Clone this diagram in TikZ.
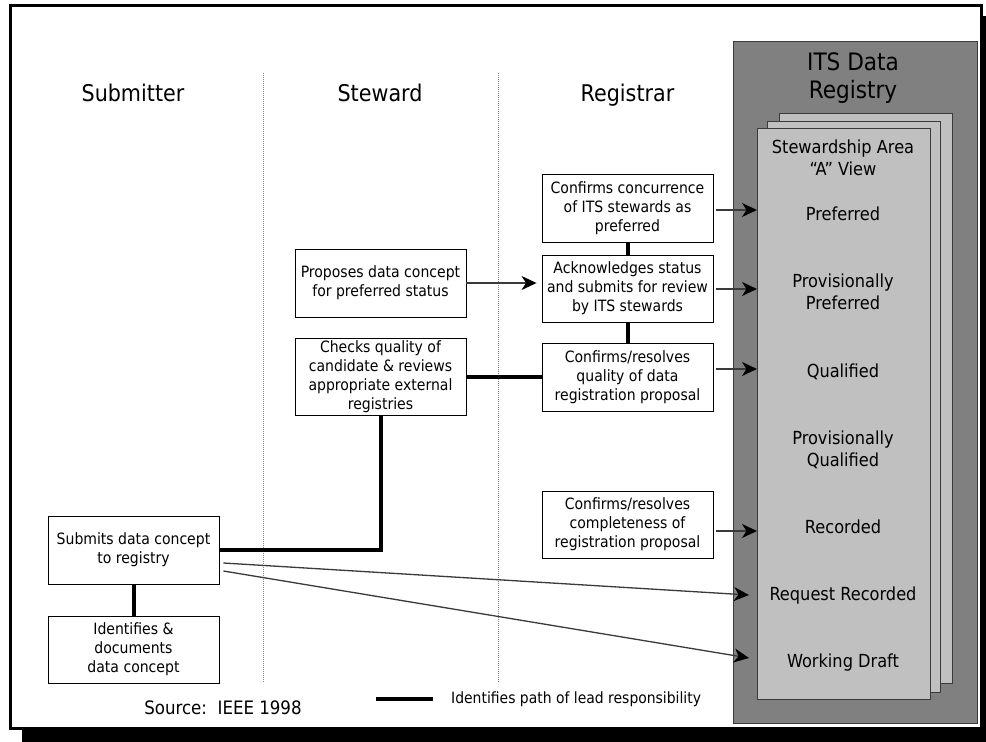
\documentclass[tikz,border=0pt]{standalone}
\usepackage{fontspec}
\setmainfont{DejaVu Sans Condensed}
\usetikzlibrary{arrows.meta}
\definecolor{regdark}{HTML}{808080}
\definecolor{pagefill}{HTML}{C0C0C0}
\definecolor{edgegray}{HTML}{3A3A3A}
\tikzset{
  stepbox/.style={draw=black, line width=0.9pt, fill=white, minimum width=171pt,
    align=center, inner sep=0pt, font=\fontsize{15.6}{19}\selectfont},
  lead/.style={line width=4pt},
  feed/.style={draw=edgegray, line width=1.3pt,
    -{Stealth[length=15pt,width=14pt,inset=4.5pt,color=black]}},
  lane/.style={gray, line width=0.7pt, dash pattern=on 1pt off 1pt},
  header/.style={font=\fontsize{23}{28}\selectfont, align=center, anchor=base},
  status/.style={font=\fontsize{18}{22}\selectfont, align=center, anchor=base},
  sheet/.style={draw=edgegray, line width=1pt, fill=pagefill, inner sep=0pt,
    minimum width=173pt},
}
\begin{document}
\begin{tikzpicture}[x=1pt,y=-1pt]
\useasboundingbox (0,0) rectangle (986,742);
% drop shadow and frame
\fill[black] (22,16) rectangle (1000,750);
\draw[line width=3pt, fill=white] (10.5,5.5) rectangle (981.5,728.5);

% swim-lane separators
\draw[lane] (263,73) -- (263,682);
\draw[lane] (498,73) -- (498,682);

% lane headers
\node[header] (hSub) at (133,101) {Submitter};
\node[header] (hStw) at (380,101) {Steward};
\node[header] (hReg) at (627.5,101) {Registrar};

% registry with stacked views (multi-line labels sit on their last baseline)
\node[draw=edgegray, line width=1pt, fill=regdark, inner sep=0pt,
      minimum width=244pt, minimum height=682pt] (registry) at (855,382) {};
\node[header, font=\fontsize{24}{28.7}\selectfont] (regTitle) at (853,98.7) {ITS Data\\Registry};
\node[sheet, minimum height=570pt] (back) at (865.5,398) {};
\node[sheet, minimum height=571pt] (middle) at (853.5,406.5) {};
\node[sheet, minimum height=571pt] (front) at (843.5,413.5) {};

\node[status] (lArea) at (843,175) {Stewardship Area\\“A” View};
\node[status] (lPref) at (843,220) {Preferred};
\node[status] (lProvPref) at (843,309.3) {Provisionally\\Preferred};
\node[status] (lQual) at (843,377) {Qualified};
\node[status] (lProvQual) at (843,466) {Provisionally\\Qualified};
\node[status] (lRec) at (843,533) {Recorded};
\node[status] (lReq) at (843,600.7) {Request Recorded};
\node[status] (lDraft) at (843,667.7) {Working Draft};

% entry points on the view
\coordinate (inPref) at (757,210);
\coordinate (inProvPref) at (757,289);
\coordinate (inQual) at (757,369);
\coordinate (inRec) at (757,531);
\coordinate (inReq) at (749,595);
\coordinate (inDraft) at (749,658);

% process steps
\node[stepbox, minimum height=68pt] (reg1) at (627.5,208)
  {Confirms concurrence\\of ITS stewards as\\preferred};
\node[stepbox, minimum height=67pt] (reg2) at (627.5,288.5)
  {Acknowledges status\\and submits for review\\by ITS stewards};
\node[stepbox, minimum height=68pt] (reg3) at (627.5,377)
  {Confirms/resolves\\quality of data\\registration proposal};
\node[stepbox, minimum height=67pt] (reg4) at (627.5,524.5)
  {Confirms/resolves\\completeness of\\registration proposal};
\node[stepbox, minimum height=68pt] (stw1) at (380.5,283)
  {Proposes data concept\\for preferred status};
\node[stepbox, minimum height=77pt] (stw2) at (380.5,376.5)
  {Checks quality of\\candidate \& reviews\\appropriate external\\registries};
\node[stepbox, minimum height=68pt] (sub1) at (133.5,550)
  {Submits data concept\\to registry};
\node[stepbox, minimum height=67pt] (sub2) at (133.5,649.5)
  {Identifies \&\\documents\\data concept};

% lead responsibility path
\draw[lead] (reg1.south) -- (reg2.north);
\draw[lead] (reg2.south) -- (reg3.north);
\draw[lead] (stw2.east) -- (stw2.east -| reg3.west);
\draw[lead] (stw2.south) -- (stw2.south |- sub1.east) -- (sub1.east);
\draw[lead] (sub1.south) -- (sub2.north);

% status transitions
\draw[feed, shorten >=5pt] (stw1.east) -- (stw1.east -| reg2.west);
\draw[feed, shorten <=3pt] (reg1.east |- inPref) -- (inPref);
\draw[feed, shorten <=3pt] (reg2.east |- inProvPref) -- (inProvPref);
\draw[feed, shorten <=3pt] (reg3.east |- inQual) -- (inQual);
\draw[feed, shorten <=3pt] (reg4.east |- inRec) -- (inRec);
\draw[feed] ([xshift=4pt,yshift=-13pt]sub1.east) -- (inReq);
\draw[feed] ([xshift=4pt,yshift=-21pt]sub1.east) -- (inDraft);

% legend and source
\coordinate (legA) at (376,699);
\coordinate (legB) at (433,699);
\draw[lead] (legA) -- (legB);
\node[anchor=base west, inner sep=0pt, font=\fontsize{15.5}{19}\selectfont]
  (legText) at (451,703) {Identifies path of lead responsibility};
\node[anchor=base, inner sep=0pt, font=\fontsize{18.5}{22}\selectfont]
  (source) at (223,714) {Source:\ \ IEEE 1998};
\end{tikzpicture}
\end{document}
